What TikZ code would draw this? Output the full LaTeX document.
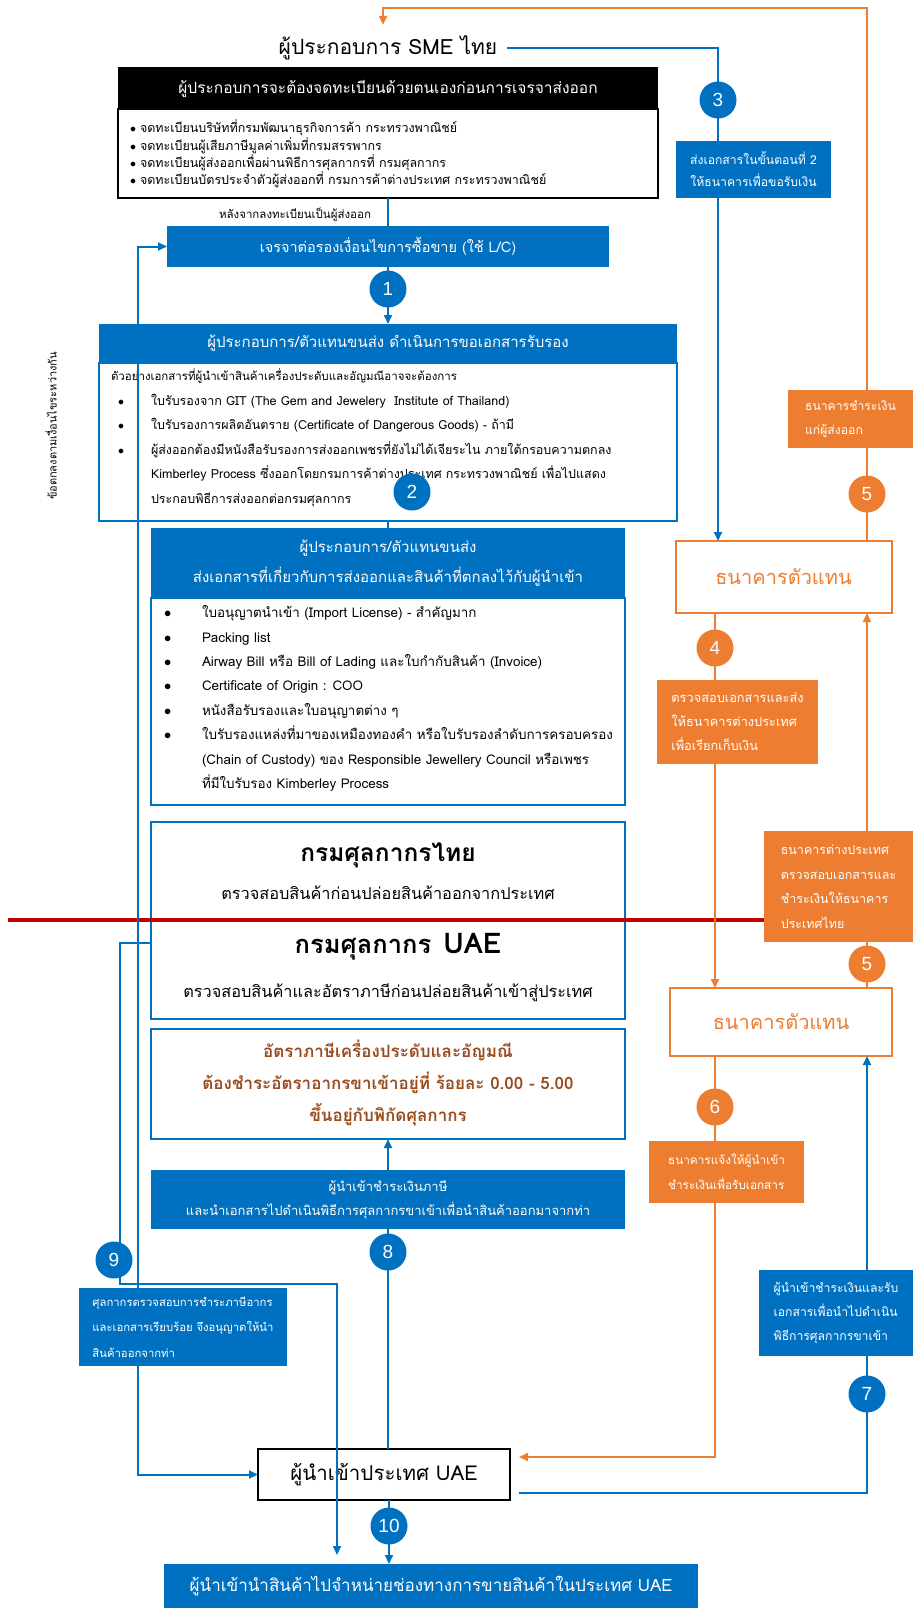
\documentclass[tikz,border=0pt]{standalone}
\usepackage{fontspec}
\setmainfont[Script=Thai]{Loma}
\newfontfamily\numfont{Liberation Sans}
\usetikzlibrary{arrows.meta}
\definecolor{cblue}{HTML}{0070C0}
\definecolor{corange}{HTML}{ED7D31}
\definecolor{cred}{HTML}{C00000}
\definecolor{cbrown}{HTML}{9A4B1C}
\newcommand\fsz[2]{\fontsize{#1}{#2}\selectfont}
\newcommand\bul[1]{\makebox[#1][l]{$\bullet$}}
\begin{document}
\begin{tikzpicture}[x=1pt,y=-1pt,
  bfill/.style={rectangle,fill=cblue,text=white,inner sep=0pt,outer sep=0pt,align=center},
  wbox/.style={rectangle,draw=#1,line width=2pt,fill=white,inner sep=0pt,outer sep=0pt,align=center},
  num/.style={circle,fill=#1,text=white,minimum size=37pt,inner sep=0pt,font=\numfont\fsz{19}{19}},
  lbl/.style={rectangle,fill=#1,text=white,inner sep=0pt,outer sep=0pt,align=left,font=\fsz{12.2}{24}},
  bln/.style={draw=cblue,line width=2pt},
  oln/.style={draw=corange,line width=2pt},
  arr/.style={-{Triangle[length=9pt,width=8pt]}},
  darr/.style={{Triangle[length=9pt,width=8pt]}-{Triangle[length=9pt,width=8pt]}},
  txt/.style={inner sep=0pt,outer sep=0pt,align=center}
]
\useasboundingbox (0,0) rectangle (913,1608);

% ---------- boxes ----------
\node[txt,font=\fsz{21}{24}] (sme) at (388,48) {ผู้ประกอบการ SME ไทย};

\node[rectangle,fill=black,text=white,minimum width=540pt,minimum height=42pt,inner sep=0pt,outer sep=0pt,font=\fsz{15.5}{18}] (blkh) at (388,88.5) {ผู้ประกอบการจะต้องจดทะเบียนด้วยตนเองก่อนการเจรจาส่งออก};
\node[wbox=black,minimum width=540pt,minimum height=89pt] (blkb) at (388,154) {};
\node[txt,anchor=west,align=left,font=\fsz{12.5}{17.3}] (blist) at (130,154) {%
\bul{10pt}จดทะเบียนบริษัทที่กรมพัฒนาธุรกิจการค้า กระทรวงพาณิชย์\\
\bul{10pt}จดทะเบียนผู้เสียภาษีมูลค่าเพิ่มที่กรมสรรพากร\\
\bul{10pt}จดทะเบียนผู้ส่งออกเพื่อผ่านพิธีการศุลกากรที่ กรมศุลกากร\\
\bul{10pt}จดทะเบียนบัตรประจำตัวผู้ส่งออกที่ กรมการค้าต่างประเทศ กระทรวงพาณิชย์};

\node[txt,font=\fsz{11.5}{14}] (after) at (295,215) {หลังจากลงทะเบียนเป็นผู้ส่งออก};

\node[bfill,minimum width=442pt,minimum height=41pt,font=\fsz{14.5}{17}] (b1) at (388,246.5) {เจรจาต่อรองเงื่อนไขการซื้อขาย (ใช้ L/C)};

\node[bfill,minimum width=578pt,minimum height=39pt,font=\fsz{15}{18}] (b2h) at (388,343.5) {ผู้ประกอบการ/ตัวแทนขนส่ง ดำเนินการขอเอกสารรับรอง};
\node[wbox=cblue,minimum width=578pt,minimum height=158pt] (b2b) at (388,442) {};
\node[txt,anchor=west,align=left,font=\fsz{12.5}{24.5}] (b2t) at (111,437.5) {%
{\fsz{11.5}{24.5}ตัวอย่างเอกสารที่ผู้นำเข้าสินค้าเครื่องประดับและอัญมณีอาจจะต้องการ}\\
\hspace*{7pt}\bul{33pt}ใบรับรองจาก GIT (The Gem and Jewelery\ \ Institute of Thailand)\\
\hspace*{7pt}\bul{33pt}ใบรับรองการผลิตอันตราย (Certificate of Dangerous Goods) - ถ้ามี\\
\hspace*{7pt}\bul{33pt}ผู้ส่งออกต้องมีหนังสือรับรองการส่งออกเพชรที่ยังไม่ได้เจียระไน ภายใต้กรอบความตกลง\\
\hspace*{40pt}Kimberley Process ซึ่งออกโดยกรมการค้าต่างประเทศ กระทรวงพาณิชย์ เพื่อไปแสดง\\
\hspace*{40pt}ประกอบพิธีการส่งออกต่อกรมศุลกากร};

\node[bfill,minimum width=474pt,minimum height=70pt,font=\fsz{15}{30}] (b3h) at (388,563) {ผู้ประกอบการ/ตัวแทนขนส่ง\\ส่งเอกสารที่เกี่ยวกับการส่งออกและสินค้าที่ตกลงไว้กับผู้นำเข้า};
\node[wbox=cblue,minimum width=474pt,minimum height=207pt] (b3b) at (388,701.5) {};
\node[txt,anchor=west,align=left,font=\fsz{13.4}{24.4}] (b3t) at (164,698.5) {%
\bul{38pt}ใบอนุญาตนำเข้า (Import License) - สำคัญมาก\\
\bul{38pt}Packing list\\
\bul{38pt}Airway Bill หรือ Bill of Lading และใบกำกับสินค้า (Invoice)\\
\bul{38pt}Certificate of Origin : COO\\
\bul{38pt}หนังสือรับรองและใบอนุญาตต่าง ๆ\\
\bul{38pt}ใบรับรองแหล่งที่มาของเหมืองทองคำ หรือใบรับรองลำดับการครอบครอง\\
\hspace*{38pt}(Chain of Custody) ของ Responsible Jewellery Council หรือเพชร\\
\hspace*{38pt}ที่มีใบรับรอง Kimberley Process};

\node[wbox=cblue,line width=2.5pt,minimum width=474pt,minimum height=197pt] (b4) at (388,920.5) {};
\node[txt,font=\bfseries\fsz{24.5}{30}] (th) at (388,855) {กรมศุลกากรไทย};
\node[txt,font=\fsz{16.3}{18}] (ths) at (388,893) {ตรวจสอบสินค้าก่อนปล่อยสินค้าออกจากประเทศ};
\node[txt,font=\bfseries\fsz{25.5}{30}] (uae) at (398,947) {กรมศุลกากร\hspace{12pt}{\fsz{28.5}{30}UAE}};
\node[txt,font=\fsz{16.3}{18}] (uaes) at (388,993) {ตรวจสอบสินค้าและอัตราภาษีก่อนปล่อยสินค้าเข้าสู่ประเทศ};

\node[wbox=cblue,minimum width=474pt,minimum height=110pt] (b5) at (388,1084) {};
\node[txt,text=cbrown,font=\bfseries\fsz{17}{32}] (tax) at (388,1083) {อัตราภาษีเครื่องประดับและอัญมณี\\ต้องชำระอัตราอากรขาเข้าอยู่ที่ ร้อยละ 0.00 - 5.00\\ขึ้นอยู่กับพิกัดศุลกากร};

\node[bfill,minimum width=474pt,minimum height=59pt,font=\fsz{13}{24}] (b8) at (388,1199.5) {ผู้นำเข้าชำระเงินภาษี\\และนำเอกสารไปดำเนินพิธีการศุลกากรขาเข้าเพื่อนำสินค้าออกมาจากท่า};

\node[wbox=black,minimum width=252pt,minimum height=51pt,font=\fsz{20.5}{22}] (imp) at (384,1474.5) {ผู้นำเข้าประเทศ UAE};

\node[bfill,minimum width=534pt,minimum height=44pt,font=\fsz{17}{20}] (fin) at (431,1586) {ผู้นำเข้านำสินค้าไปจำหน่ายช่องทางการขายสินค้าในประเทศ UAE};

\node[wbox=corange,minimum width=216pt,minimum height=72pt,text=corange,font=\fsz{20}{26}] (bk1) at (783.5,577) {ธนาคารตัวแทน};
\node[wbox=corange,minimum width=222pt,minimum height=68pt,text=corange,font=\fsz{20}{26}] (bk2) at (781,1022) {ธนาคารตัวแทน};

\node[txt,rotate=90,font=\fsz{11}{13}] (agr) at (51,426) {ข้อตกลงตามเงื่อนไขระหว่างกัน};

% ---------- border line ----------
\coordinate (rl) at (8,920);
\coordinate (rr) at (913,920);
\draw[cred,line width=4pt] (rl) -- (rr);

% ---------- helper coordinates ----------
\coordinate (x715) at (715,0);
\coordinate (x718) at (718,0);
\coordinate (x867) at (867,0);
\coordinate (x138) at (138,0);
\coordinate (x389) at (389,0);
\coordinate (otop) at (383,8);
\coordinate (y1457) at (0,1457);
\coordinate (y1493) at (0,1493);
\coordinate (p9a) at (120,943);
\coordinate (p9b) at (120,1284);
\coordinate (p9c) at (337,1284);

% ---------- connectors ----------
\draw[bln] (blkb.south) -- (b1.north);
\draw[bln,arr] (b1.south) -- (b2h.north);
\draw[bln] (b2b.south) -- (b3h.north);
\draw[bln,arr] (b8.north) -- (b5.south);
\draw[bln] (imp.north -| b8.south) -- (b8.south);
\draw[bln,arr] (imp.south -| x389) -- (fin.north -| x389);
\draw[bln,darr] (imp.west) -| (x138 |- b1.west) -- (b1.west);
\draw[bln,arr,shorten >=9pt] (b4.west |- p9a) -- (p9a) -- (p9b) -- (p9c) -- (p9c |- fin.north);
\draw[bln,arr,shorten <=10pt] (sme.east) -| (bk1.north -| x718);
\draw[oln,arr,shorten >=11pt] (bk1.north -| x867) |- (otop) -- (sme.north -| otop);
\draw[oln,arr] (bk1.south -| x715) -- (bk2.north -| x715);
\draw[oln,arr] (bk2.north -| x867) -- (bk1.south -| x867);
\draw[oln,arr,shorten >=9pt] (bk2.south -| x715) |- (imp.east |- y1457);
\draw[bln,arr,shorten <=9pt] (imp.east |- y1493) -| (bk2.south -| x867);

% ---------- labels ----------
\node[lbl=cblue,align=center,minimum width=155pt,minimum height=57pt,font=\fsz{12.2}{22}] (l3) at (753.5,169.5) {ส่งเอกสารในขั้นตอนที่ 2\\ให้ธนาคารเพื่อขอรับเงิน};
\node[lbl=corange,minimum width=125pt,minimum height=58pt] (l5a) at (850.5,419) {ธนาคารชำระเงิน\\แก่ผู้ส่งออก};
\node[lbl=corange,minimum width=161pt,minimum height=84pt,font=\fsz{12.8}{24}] (l4) at (737.5,722) {ตรวจสอบเอกสารและส่ง\\ให้ธนาคารต่างประเทศ\\เพื่อเรียกเก็บเงิน};
\node[lbl=corange,minimum width=149pt,minimum height=111pt,font=\fsz{12.5}{24.5}] (l5b) at (838.5,886.5) {ธนาคารต่างประเทศ\\ตรวจสอบเอกสารและ\\ชำระเงินให้ธนาคาร\\ประเทศไทย};
\node[lbl=corange,minimum width=155pt,minimum height=62pt,font=\fsz{11.8}{25}] (l6) at (726.5,1172) {ธนาคารแจ้งให้ผู้นำเข้า\\ชำระเงินเพื่อรับเอกสาร};
\node[lbl=cblue,minimum width=154pt,minimum height=86pt] (l7) at (836,1313) {ผู้นำเข้าชำระเงินและรับ\\เอกสารเพื่อนำไปดำเนิน\\พิธีการศุลกากรขาเข้า};
\node[lbl=cblue,minimum width=208pt,minimum height=78pt,font=\fsz{11.3}{25.5}] (l9) at (183,1327) {ศุลกากรตรวจสอบการชำระภาษีอากร\\และเอกสารเรียบร้อย จึงอนุญาตให้นำ\\สินค้าออกจากท่า};

% ---------- step numbers ----------
\node[num=cblue] (c3) at (718,100) {3};
\node[num=cblue] (c1) at (388,289) {1};
\node[num=cblue] (c2) at (412,492) {2};
\node[num=corange] (c5a) at (867,494) {5};
\node[num=corange] (c4) at (715,648) {4};
\node[num=corange] (c5b) at (867,964) {5};
\node[num=corange] (c6) at (715,1107) {6};
\node[num=cblue] (c8) at (388,1252) {8};
\node[num=cblue] (c9) at (114,1260) {9};
\node[num=cblue] (c7) at (867,1394) {7};
\node[num=cblue] (c10) at (389,1526) {10};
\end{tikzpicture}
\end{document}
